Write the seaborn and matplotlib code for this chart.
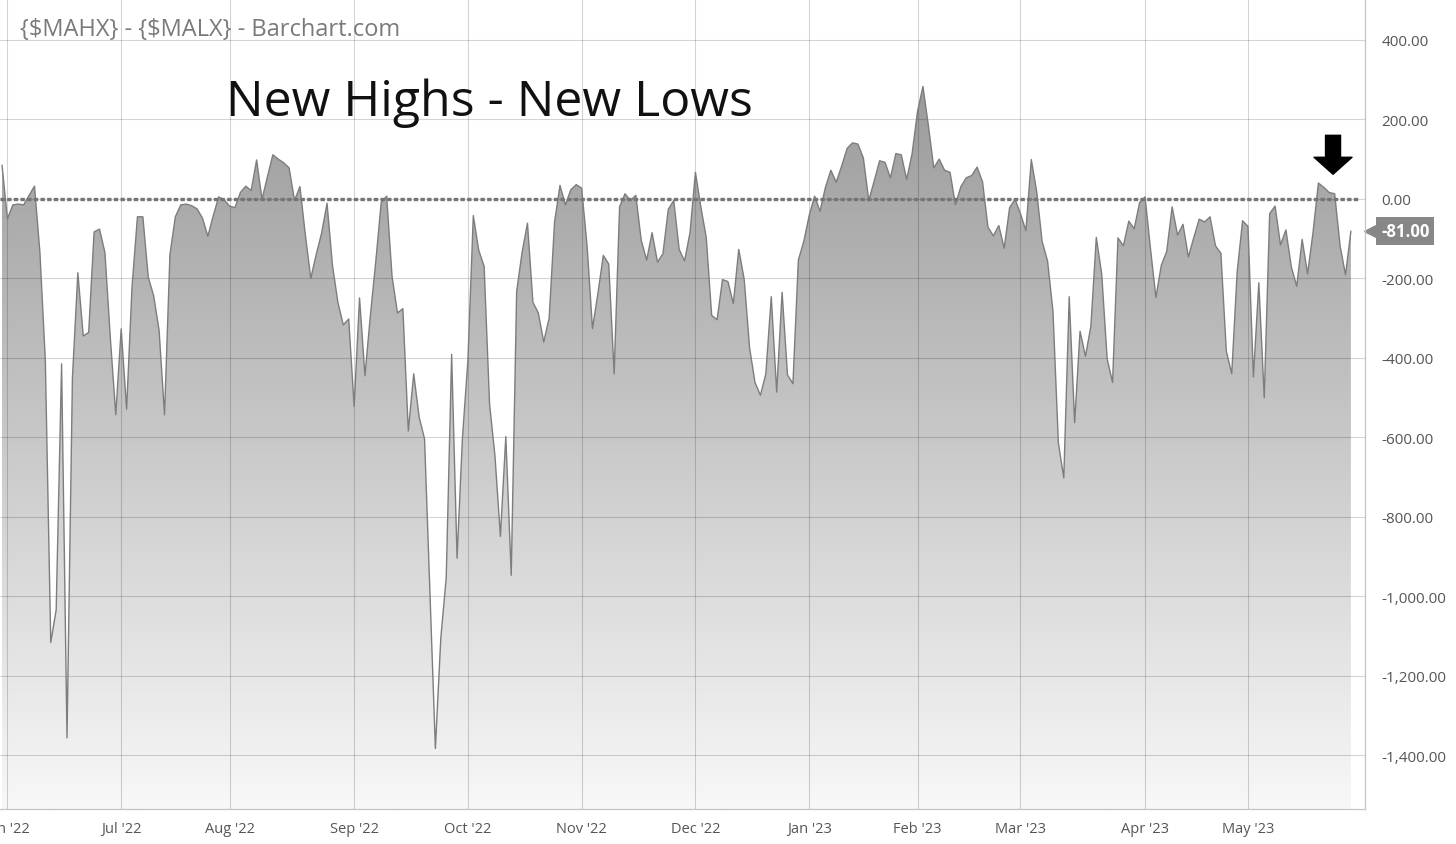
import numpy as np
import pandas as pd
import matplotlib
matplotlib.use("Agg")
import matplotlib.pyplot as plt
import matplotlib.transforms as mtransforms
from matplotlib.colors import LinearSegmentedColormap
import seaborn as sns

# trading days on the chart (NYSE holidays left out)
start_date = "2022-05-31"
end_date = "2023-05-26"
holidays = ["2022-06-20", "2022-07-04", "2022-09-05", "2022-11-24", "2022-12-26",
            "2023-01-02", "2023-01-16", "2023-02-20", "2023-04-07"]

# New Highs - New Lows, one value per trading day
may_jun_22 = [85, -50, -15, -13, -15, 9, 32, -135, -407, -1116, -1034, -415, -1356, -450,
              -186, -345, -336, -83, -76, -135, -350, -543]
jul_22 = [-327, -529, -222, -45, -45, -197, -244, -331, -543, -140, -45, -15, -13, -17,
          -25, -48, -94, -42, 5, -2]
aug_22 = [-18, -22, 16, 32, 21, 98, -1, 56, 111, 100, 91, 78, -4, 31, -91, -200, -140,
          -86, -11, -167, -260, -317, -302]
sep_22 = [-522, -249, -445, -293, -157, -9, 7, -195, -287, -276, -584, -440, -549, -604,
          -995, -1383, -1105, -953, -391, -904, -600]
oct_22 = [-407, -42, -129, -170, -516, -647, -849, -598, -947, -233, -135, -61, -260, -287,
          -360, -300, -58, 34, -15, 23, 36]
nov_22 = [27, -118, -326, -238, -142, -164, -440, -20, 13, -4, 9, -104, -154, -85, -159,
          -138, -26, -4, -127, -156, -85]
dec_22 = [67, -20, -97, -293, -304, -203, -208, -263, -127, -202, -375, -462, -494, -440,
          -246, -486, -235, -443, -465, -154, -107]
jan_23 = [-42, 7, -31, 29, 72, 42, 83, 127, 141, 138, 103, -4, 45, 96, 92, 53, 114, 111,
          49, 114]
feb_23 = [220, 283, 185, 78, 100, 72, 67, -15, 31, 53, 59, 80, 43, -71, -93, -67, -124,
          -22, -1]
mar_23 = [-37, -80, 99, 18, -107, -156, -282, -614, -702, -246, -563, -333, -396, -320,
          -97, -189, -402, -462, -98, -118, -56, -75, -9]
apr_23 = [5, -125, -248, -167, -132, -20, -91, -64, -146, -97, -51, -58, -45, -118, -137,
          -383, -440, -184, -55]
may_23 = [-69, -448, -211, -500, -37, -18, -116, -78, -171, -220, -102, -189, -85, 40, 29,
          16, 13, -118, -191, -81]

y_ticks = [-1400, -1200, -1000, -800, -600, -400, -200, 0, 200, 400]
ref_level = 0

dates = pd.bdate_range(start_date, end_date, freq="C", holidays=holidays)
values = (may_jun_22 + jul_22 + aug_22 + sep_22 + oct_22 + nov_22 + dec_22 + jan_23
          + feb_23 + mar_23 + apr_23 + may_23)
df = pd.DataFrame({"date": dates, "value": values})
df["i"] = np.arange(len(df))

month_starts = pd.date_range("2022-06-01", "2023-05-01", freq="MS")
month_pos = dates.searchsorted(month_starts)
month_labels = [d.strftime("%b '%y") for d in month_starts]

sns.set_style("white")
plt.rcParams["font.family"] = ["Open Sans", "DejaVu Sans"]

fig = plt.figure(figsize=(14.56, 8.45), dpi=100)
ax = fig.add_axes([0, 35 / 845, 1365 / 1456, 810 / 845])

ymin, ymax = -1535, 503
ax.set_xlim(-0.37, 251.6)
ax.set_ylim(ymin, ymax)

# gradient area under the line
poly = ax.fill_between(df["i"], df["value"], ymin, color="none", lw=0)
cmap = LinearSegmentedColormap.from_list("fade", ["#f8f8f8", "#9a9a9a"])
grad = np.linspace(0, 1, 256).reshape(-1, 1)
im = ax.imshow(grad, cmap=cmap, aspect="auto", origin="lower",
               extent=[0, len(df) - 1, ymin, 300], zorder=1)
im.set_clip_path(poly.get_paths()[0], transform=ax.transData)

sns.lineplot(data=df, x="i", y="value", ax=ax, color="#7d7d7d", linewidth=1.0, zorder=3)

ax.hlines(ref_level, -0.37, len(df) + 0.3, colors="#747474", linewidth=2.4,
          linestyles=(0, (1.3, 0.7)), zorder=4)

ax.set_axisbelow(False)
ax.grid(True, color="black", alpha=0.17, linewidth=0.8)

ax.set_xticks(month_pos)
ax.set_xticklabels(month_labels)
ax.set_yticks(y_ticks)
ax.set_yticklabels([f"{v:,.2f}" for v in y_ticks])
ax.yaxis.tick_right()
ax.tick_params(axis="y", length=0, pad=12, labelsize=11, labelcolor="#555555")
ax.tick_params(axis="x", length=4.5, color="#cccccc", pad=4, labelsize=10.5,
               labelcolor="#555555")
ax.set_xlabel("")
ax.set_ylabel("")
for side in ["left", "top"]:
    ax.spines[side].set_visible(False)
for side in ["right", "bottom"]:
    ax.spines[side].set_color("#c4c4c4")
    ax.spines[side].set_linewidth(0.9)

# last value tag on the price axis
last = df["value"].iloc[-1]
blend = mtransforms.blended_transform_factory(ax.transAxes, ax.transData)
ax.plot([1.0], [last], marker="<", ms=14, color="#878787", clip_on=False,
        transform=mtransforms.offset_copy(blend, fig=fig, x=9, y=0, units="dots"))
ax.annotate(f"{last:,.2f}", xy=(1.0, last), xycoords=blend, xytext=(16, 0),
            textcoords="offset pixels", ha="left", va="center", color="white",
            fontsize=12, fontweight="bold", annotation_clip=False,
            bbox=dict(boxstyle="square,pad=0.3", fc="#878787", ec="none"))

# arrow pointing at the recent peak
ax.annotate("", xy=(245.7, 62), xytext=(245.7, 160),
            arrowprops=dict(arrowstyle="simple,head_length=0.85,head_width=1.9,tail_width=0.75",
                            color="black", mutation_scale=14.4, shrinkA=0, shrinkB=0),
            zorder=5)

fig.text(20 / 1456, 1 - 30 / 845, "{$MAHX} - {$MALX} - Barchart.com", color="#7a7a7a",
         fontsize=17, ha="left", va="center", parse_math=False)
fig.text(226 / 1456, 1 - 116 / 845, "New Highs - New Lows", color="#111111",
         fontsize=36, ha="left", va="baseline")

fig.savefig("out.png", dpi=100)
